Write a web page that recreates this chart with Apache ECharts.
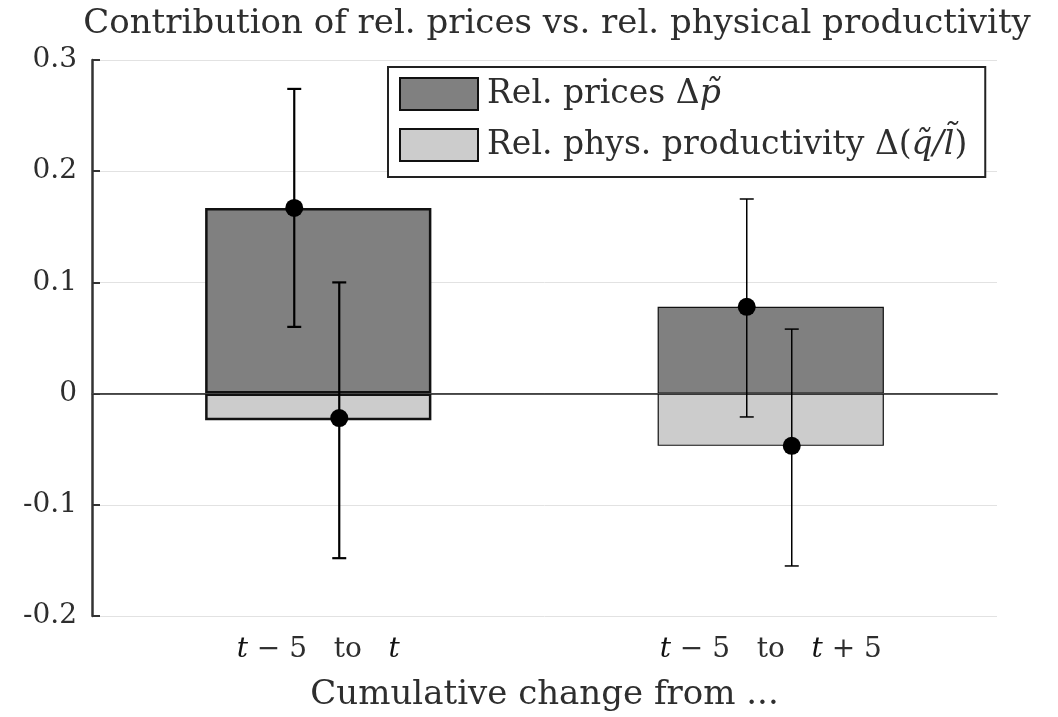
<!DOCTYPE html>
<html><head><meta charset="utf-8">
<script src="https://cdn.jsdelivr.net/npm/echarts@6/dist/echarts.min.js"></script>
<style>html,body{margin:0;padding:0;background:#fff}#c{width:1058px;height:717px}</style>
</head><body><div id="c"></div>
<script>
const categories = ['t5t', 't5t5'];
const pricesValues = [0.167, 0.078];
const prodValues = [-0.024, -0.047];
const pricesPoint = [0.167, 0.078];
const pricesLow = [0.060, -0.021];
const pricesHigh = [0.274, 0.175];
const prodPoint = [-0.022, -0.047];
const prodLow = [-0.148, -0.155];
const prodHigh = [0.100, 0.058];
const yTicks = [-0.2, -0.1, 0, 0.1, 0.2, 0.3];

const WFONT = '"DejaVu Serif", serif';
const TXT = '#2e2e2e';
const borderW = [2.5, 1.2];

function errSeries(name, low, high, pt, offset) {
  return {
    type: 'custom', name: name + '_err', z: 10,
    data: categories.map((c, i) => [i, low[i], high[i], pt[i]]),
    renderItem: function (params, api) {
      const i = api.value(0);
      const lo = api.coord([i, api.value(1)]);
      const hi = api.coord([i, api.value(2)]);
      const p = api.coord([i, api.value(3)]);
      const x = p[0] + offset;
      const lw = i === 0 ? 2.2 : 1.5;
      const cap = 7;
      const st = { stroke: '#000', lineWidth: lw };
      return {
        type: 'group', children: [
          { type: 'line', shape: { x1: x, y1: lo[1], x2: x, y2: hi[1] }, style: st },
          { type: 'line', shape: { x1: x - cap, y1: lo[1], x2: x + cap, y2: lo[1] }, style: st },
          { type: 'line', shape: { x1: x - cap, y1: hi[1], x2: x + cap, y2: hi[1] }, style: st },
          { type: 'circle', shape: { cx: x, cy: p[1], r: 9 }, style: { fill: '#000' } }
        ]
      };
    }
  };
}

const chart = echarts.init(document.getElementById('c'));
chart.setOption({
  animation: false,
  backgroundColor: '#fff',
  title: {
    text: 'Contribution of rel. prices vs. rel. physical productivity',
    left: 552, textAlign: 'center', top: 2,
    textStyle: { fontFamily: WFONT, fontWeight: 'normal', fontSize: 34, color: TXT }
  },
  grid: { left: 92, right: 61, top: 60, bottom: 100 },
  legend: {
    orient: 'vertical', left: 388, top: 67,
    data: ['Rel. prices', 'Rel. phys. productivity'],
    icon: 'rect',
    itemWidth: 78, itemHeight: 32, itemGap: 17,
    padding: [10, 18, 15, 11],
    backgroundColor: '#fff', borderColor: '#222', borderWidth: 2, borderRadius: 0,
    itemStyle: { borderColor: '#111', borderWidth: 2 },
    textStyle: {
      fontFamily: WFONT, fontSize: 33, color: TXT, padding: [0, 0, 0, 4],
      rich: {
        n: { fontFamily: WFONT, fontSize: 33, color: TXT },
        i: { fontFamily: WFONT, fontSize: 33, color: TXT, fontStyle: 'italic' }
      }
    },
    formatter: function (name) {
      if (name === 'Rel. prices') return '{n|Rel. prices Δ}{i|p̃}';
      return '{n|Rel. phys. productivity Δ(}{i|q̃/l̃}{n|)}';
    }
  },
  xAxis: {
    type: 'category', data: categories,
    name: 'Cumulative change from ...', nameLocation: 'middle', nameGap: 62,
    nameTextStyle: { fontFamily: WFONT, fontSize: 34, color: TXT },
    axisLine: { lineStyle: { color: '#555', width: 2 } },
    axisTick: { show: true, inside: true, alignWithLabel: true, length: 8, lineStyle: { color: '#333', width: 2 } },
    axisLabel: {
      interval: 0, hideOverlap: false,
      margin: 20, fontFamily: WFONT, fontSize: 28, color: TXT,
      formatter: function (v) {
        if (v === 't5t') return '{i|t}{n| − 5   to   }{i|t}';
        return '{i|t}{n| − 5   to   }{i|t}{n| + 5}';
      },
      rich: {
        n: { fontFamily: WFONT, fontSize: 28, color: TXT },
        i: { fontFamily: WFONT, fontSize: 28, color: '#111', fontStyle: 'italic' }
      }
    },
    splitLine: { show: false }
  },
  yAxis: {
    type: 'value', min: yTicks[0], max: yTicks[yTicks.length - 1], interval: 0.1,
    axisLine: { show: true, lineStyle: { color: '#333', width: 2.5 } },
    axisTick: { show: true, inside: true, length: 8, lineStyle: { color: '#333', width: 2 } },
    axisLabel: {
      margin: 15, fontFamily: WFONT, fontSize: 28, color: TXT,
      formatter: function (v) {
        const r = Math.round(v * 10) / 10;
        return r === 0 ? '0' : String(r);
      }
    },
    splitLine: { show: true, lineStyle: { color: '#e2e2e2', width: 1 } }
  },
  series: [
    {
      name: 'Rel. prices', type: 'bar', stack: 's', barWidth: '50%',
      itemStyle: { color: '#808080', borderColor: '#111' },
      data: pricesValues.map((v, i) => ({ value: v, itemStyle: { borderWidth: borderW[i] } })),
      markLine: {
        silent: true, symbol: 'none', label: { show: false },
        lineStyle: { color: '#444', width: 1, type: 'solid' },
        data: [{ yAxis: 0 }]
      }
    },
    {
      name: 'Rel. phys. productivity', type: 'bar', stack: 's', barWidth: '50%',
      itemStyle: { color: '#cccccc', borderColor: '#111' },
      data: prodValues.map((v, i) => ({ value: v, itemStyle: { borderWidth: borderW[i] } }))
    },
    errSeries('prices', pricesLow, pricesHigh, pricesPoint, -24),
    errSeries('prod', prodLow, prodHigh, prodPoint, 21)
  ]
});
</script></body></html>
